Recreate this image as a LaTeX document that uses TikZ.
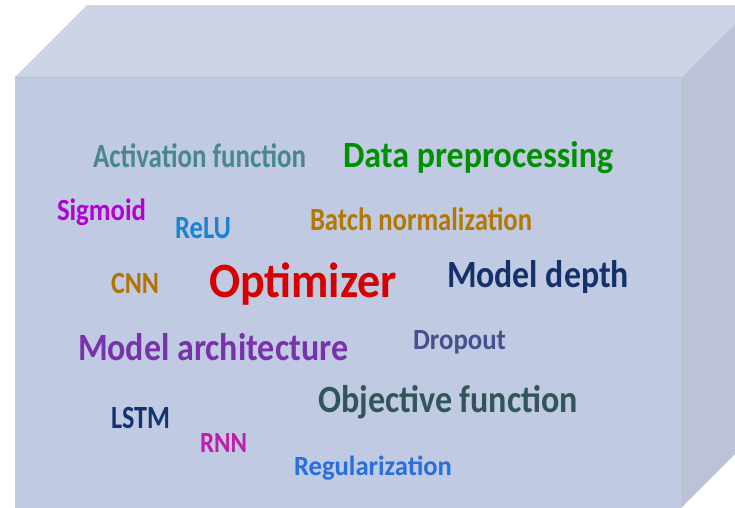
\documentclass[tikz,border=0pt]{standalone}
\usepackage{fontspec}
\setmainfont{Carlito}
\definecolor{topface}{RGB}{204,212,230}
\definecolor{frontface}{RGB}{192,202,226}
\definecolor{sideface}{RGB}{188,195,214}
\definecolor{cAct}{RGB}{72,136,140}
\definecolor{cData}{RGB}{0,145,0}
\definecolor{cSig}{RGB}{180,0,210}
\definecolor{cRelu}{RGB}{30,130,210}
\definecolor{cBatch}{RGB}{180,120,0}
\definecolor{cCnn}{RGB}{180,115,0}
\definecolor{cOpt}{RGB}{215,0,0}
\definecolor{cArch}{RGB}{120,50,170}
\definecolor{cDepth}{RGB}{20,50,105}
\definecolor{cDrop}{RGB}{70,80,140}
\definecolor{cObj}{RGB}{50,85,90}
\definecolor{cLstm}{RGB}{20,50,110}
\definecolor{cRnn}{RGB}{190,30,170}
\definecolor{cReg}{RGB}{40,110,220}
% width, cap height, text
\newcommand{\whtext}[3]{\resizebox{#1pt}{#2pt}{\bfseries\vphantom{H}\smash{#3}}}
\begin{document}
\begin{tikzpicture}[x=1pt,y=-1pt,
  word/.style={anchor=base west,inner sep=0pt,outer sep=0pt}]
\useasboundingbox (0,0) rectangle (735,507);
\begin{scope}
\clip (0,0) rectangle (735,507);
% top face
\fill[topface] (15,77) -- (87,5) -- (754,5) -- (682,77) -- cycle;
% right face
\fill[sideface] (682,77) -- (754,5) -- (754,435) -- (682,507) -- cycle;
% front face
\fill[frontface] (15,77) rectangle (682,510);
\draw[line width=0.4pt,color=topface!85!black!60!frontface] (15,77) -- (682,77) -- (682,507);
\end{scope}
\node[word,text=cAct]   (act)   at (93,167)  {\whtext{213}{22}{Activation function}};
\node[word,text=cData]  (data)  at (343,167) {\whtext{270}{24}{Data preprocessing}};
\node[word,text=cSig]   (sig)   at (57,220)  {\whtext{89}{20}{Sigmoid}};
\node[word,text=cRelu]  (relu)  at (175,238) {\whtext{56}{21}{ReLU}};
\node[word,text=cBatch] (batch) at (310,230) {\whtext{222}{21}{Batch normalization}};
\node[word,text=cCnn]   (cnn)   at (111,293) {\whtext{48}{20}{CNN}};
\node[word,text=cOpt]   (opt)   at (209,297) {\whtext{188}{32}{Optimizer}};
\node[word,text=cDepth] (depth) at (447,287) {\whtext{182}{25}{Model depth}};
\node[word,text=cArch]  (arch)  at (78,360)  {\whtext{270}{25}{Model architecture}};
\node[word,text=cDrop]  (drop)  at (413,349) {\whtext{93}{19}{Dropout}};
\node[word,text=cObj]   (obj)   at (318,412) {\whtext{260}{25}{Objective function}};
\node[word,text=cLstm]  (lstm)  at (111,428) {\whtext{59}{21}{LSTM}};
\node[word,text=cRnn]   (rnn)   at (200,452) {\whtext{47}{19}{RNN}};
\node[word,text=cReg]   (reg)   at (294,475) {\whtext{158}{18}{Regularization}};
\end{tikzpicture}
\end{document}
